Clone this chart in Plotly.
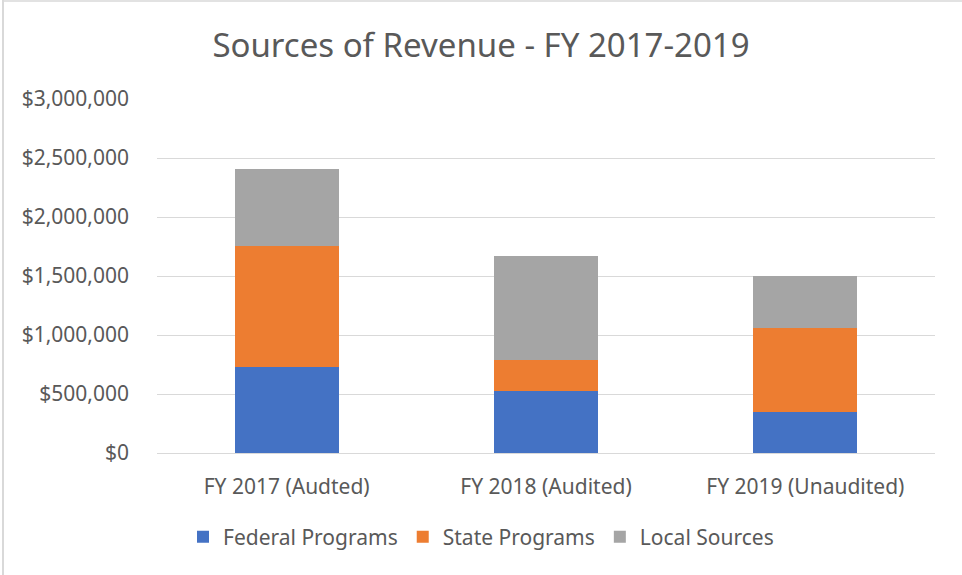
import plotly.graph_objects as go

categories = ["FY 2017 (Audted)", "FY 2018 (Audited)", "FY 2019 (Unaudited)"]
federal = [729000, 525000, 347000]
state = [1025000, 266000, 716000]
local = [656000, 878000, 437000]
series_names = ["Federal Programs", "State Programs", "Local Sources"]
colors = ["#4472C4", "#ED7D31", "#A5A5A5"]

W, H = 962, 575
ml, mr, mt, mb = 157, 27, 99, 122
pw, ph = W - ml - mr, H - mt - mb

fig = go.Figure()
for name, vals, col in zip(series_names, [federal, state, local], colors):
    fig.add_trace(go.Bar(
        x=categories, y=vals, name=name,
        marker=dict(color=col, line=dict(width=0)),
    ))

font_family = "Noto Sans, Open Sans, sans-serif"
txt = "#595959"

def px_x(p):
    return (p - ml) / pw

def px_y(p):
    return (H - mb - p) / ph

fig.update_layout(
    width=W, height=H,
    barmode="stack", bargap=0.6,
    plot_bgcolor="white", paper_bgcolor="white",
    margin=dict(l=ml, r=mr, t=mt, b=mb, autoexpand=False),
    font=dict(family=font_family, color=txt, size=21),
    title=dict(text="Sources of Revenue - FY 2017-2019", x=0.5, xref="container",
               xanchor="center", y=1 - 45 / H, yanchor="middle",
               font=dict(size=33, color=txt, family=font_family)),
    xaxis=dict(showgrid=False, showline=True, linecolor="#D9D9D9", linewidth=1,
               ticks="", tickfont=dict(size=21, color=txt), ticklabelstandoff=15),
    yaxis=dict(range=[0, 3000000], tick0=0, dtick=500000, tickformat="$,.0f",
               showgrid=True, gridcolor="#D9D9D9", gridwidth=1,
               zeroline=False, showline=False, ticks="",
               tickfont=dict(size=21, color=txt), ticklabelstandoff=27),
    legend=dict(orientation="h", x=0.5, xanchor="center", xref="container",
                y=1 - 537 / H, yref="container", yanchor="middle",
                font=dict(size=21, color=txt), traceorder="normal"),
    showlegend=True,
)
fig.add_shape(type="line", xref="paper", yref="paper",
              x0=px_x(3), x1=px_x(3), y0=px_y(H), y1=px_y(0),
              line=dict(color="#D9D9D9", width=2), layer="below")
fig.add_shape(type="line", xref="paper", yref="paper",
              x0=px_x(3), x1=px_x(W), y0=px_y(1), y1=px_y(1),
              line=dict(color="#D9D9D9", width=1.5), layer="below")

fig.write_html("out.html", config={"displayModeBar": False},
               post_script="document.body.style.margin='0px';")
